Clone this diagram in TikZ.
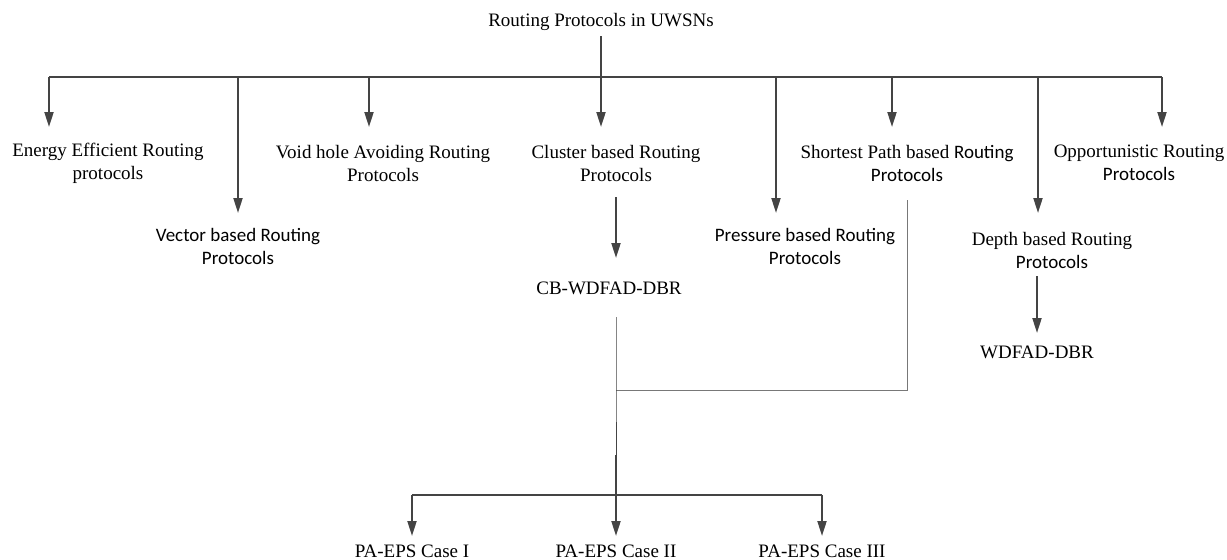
\documentclass[tikz,border=0pt]{standalone}
\usepackage{fontspec}
\setmainfont{Liberation Serif}
\newfontfamily\calfont{Carlito}
\usetikzlibrary{arrows.meta}

\definecolor{linegray}{RGB}{68,68,68}
\definecolor{thingray}{RGB}{120,120,120}

\tikzset{
  lbl/.style={align=center, inner sep=0pt, font=\fontsize{9.5}{11.5}\selectfont},
  arr/.style={draw=linegray, line width=1pt, -{Triangle[length=7.5pt, width=4.5pt]}},
  ln/.style={draw=linegray, line width=1pt},
  thinln/.style={draw=thingray, line width=0.5pt},
}

\begin{document}
\begin{tikzpicture}[x=0.5pt, y=-0.5pt]
  \useasboundingbox (0,0) rectangle (1227,559);

  % Root
  \node[lbl] (root) at (601,22) {Routing Protocols in UWSNs};

  % First level categories
  \node[lbl] (energy)  at (108,163) {Energy Efficient Routing\\protocols};
  \node[lbl] (vector)  at (238,246) {\calfont Vector based Routing\\\calfont Protocols};
  \node[lbl] (void)    at (383,163) {Void hole Avoiding Routing\\Protocols};
  \node[lbl] (cluster) at (616,163) {Cluster based Routing\\Protocols};
  \node[lbl] (press)   at (805,246) {\calfont Pressure based Routing\\\calfont Protocols};
  \node[lbl] (short)   at (907,163) {Shortest Path based {\calfont Routing}\\\calfont Protocols};
  \node[lbl] (depth)   at (1052,250) {Depth based Routing\\\calfont Protocols};
  \node[lbl] (opport)  at (1139,163) {Opportunistic Routing\\\calfont Protocols};

  % Second level
  \node[lbl] (cb)    at (609,288) {CB-WDFAD-DBR};
  \node[lbl] (wdfad) at (1037,352) {WDFAD-DBR};

  % Cases
  \node[lbl] (case1) at (412,551) {PA-EPS Case I};
  \node[lbl] (case2) at (616,551) {PA-EPS Case II};
  \node[lbl] (case3) at (822,551) {PA-EPS Case III};

  % Bus from the root
  \foreach \n/\x/\y in {energy/49/127, vector/238/213, void/369/127,
                        cluster/601/127, press/776/213, short/892/127,
                        depth/1038/213, opport/1162/127} {
    \coordinate (d-\n) at (\x,77);
    \coordinate (t-\n) at (\x,\y);
  }
  \draw[ln, shorten <=2.5pt] (root.south) -- (root.south |- d-energy);
  \draw[ln] (d-energy) -- (d-opport);
  \foreach \n in {energy, vector, void, cluster, press, short, depth, opport}
    \draw[arr] (d-\n) -- (t-\n);

  % Cluster -> CB-WDFAD-DBR
  \coordinate (cl-out) at (616,197);
  \coordinate (cb-in)  at (616,258);
  \draw[arr] (cl-out) -- (cb-in);

  % Depth -> WDFAD-DBR
  \coordinate (dp-out) at (1037,276);
  \coordinate (wd-in)  at (1037,333);
  \draw[arr] (dp-out) -- (wd-in);

  % Joining CB-WDFAD-DBR and shortest path
  \coordinate (cb-out) at (616,317);
  \coordinate (sp-out) at (907,200);
  \coordinate (jn)     at (616,390);
  \coordinate (thick)  at (616,455);
  \draw[thinln] (sp-out) -- (sp-out |- jn) -- (jn);
  \draw[draw=linegray, line width=0.5pt] (cb-out) -- (jn) -- (thick);

  % Cases bus
  \coordinate (c-bus1) at (412,495);
  \coordinate (c-bus3) at (822,495);
  \coordinate (c-t1) at (412,536);
  \coordinate (c-t2) at (616,536);
  \coordinate (c-t3) at (822,536);
  \draw[ln] (c-bus1) -- (c-bus3);
  \draw[arr] (thick) -- (c-t2);
  \draw[arr] (c-bus1) -- (c-t1);
  \draw[arr] (c-bus3) -- (c-t3);
\end{tikzpicture}
\end{document}
